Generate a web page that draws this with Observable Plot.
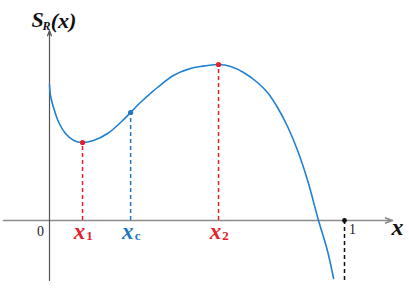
<!DOCTYPE html>
<html><head><meta charset="utf-8">
<script src="https://cdn.jsdelivr.net/npm/d3@7"></script>
<script src="https://cdn.jsdelivr.net/npm/@observablehq/plot@0.6"></script>
<style>body{margin:0;background:#fff} #chart svg text{font-family:"Liberation Serif","DejaVu Serif",serif !important;}</style></head>
<body><div id="chart"></div>
<script>
// curve S_R(x)
const curveX = [0, 0.0034, 0.0146, 0.0315, 0.0542, 0.0824, 0.1119, 0.149, 0.197, 0.241, 0.275, 0.308, 0.342, 0.366, 0.420, 0.478, 0.512, 0.573, 0.614, 0.658, 0.705, 0.739, 0.773, 0.807, 0.841, 0.875, 0.912, 0.942, 0.963];
const curveY = [1.36, 1.25, 1.12, 0.98, 0.87, 0.80, 0.78, 0.80, 0.87, 0.98, 1.08, 1.18, 1.27, 1.33, 1.45, 1.52, 1.54, 1.56, 1.54, 1.48, 1.38, 1.28, 1.13, 0.94, 0.70, 0.40, 0.0, -0.30, -0.58];
// special points
const critSub = ["1", "c", "2"];
const critX = [0.112, 0.275, 0.573];
const critY = [0.78, 1.08, 1.56];
const critColor = ["#e41e2b", "#1f76c6", "#e41e2b"];
// axis tick labels
const tickValues = [0, 1];
const tickLabels = ["0", "1"];
const yMin = -0.6, yMax = 1.9, xMin = -0.156, xMax = 1.163;

const curve = curveX.map((x, i) => ({x, y: curveY[i]}));
const crit = critX.map((x, i) => ({x, y: critY[i], sub: critSub[i], color: critColor[i]}));
const ticks = tickValues.map((v, i) => ({x: v, y: 0, label: tickLabels[i]}));
const serif = "Liberation Serif, DejaVu Serif, serif";
const fixed = {frameAnchor: "top-left", textAnchor: "middle", lineAnchor: "middle", fontFamily: serif, fill: "#111", fontWeight: "bold", fontStyle: "italic"};

const chart = Plot.plot({
  width: 409, height: 289, margin: 0,
  x: {domain: [-49/295, 360/295], axis: null},
  y: {domain: [-0.69, 2.2], axis: null},
  style: {background: "#fff", fontFamily: serif},
  marks: [
    Plot.arrow([{}], {x1: xMin, y1: 0, x2: xMax, y2: 0, stroke: "#8c8c8c", strokeWidth: 1.6, headLength: 7, headAngle: 40}),
    Plot.arrow([{}], {x1: 0, y1: yMin, x2: 0, y2: yMax, stroke: "#555", strokeWidth: 1.2, headLength: 7, headAngle: 40}),
    Plot.ruleX(crit, {x: "x", y1: 0, y2: "y", stroke: "color", strokeWidth: 1.5, strokeDasharray: "4,3"}),
    Plot.ruleX([1], {y1: 0, y2: yMin, stroke: "#111", strokeWidth: 1.5, strokeDasharray: "4,3"}),
    Plot.line(curve, {x: "x", y: "y", stroke: "#2280d2", strokeWidth: 1.6, curve: "catmull-rom"}),
    Plot.dot(crit, {x: "x", y: "y", fill: "color", r: 2.6}),
    Plot.dot([{x: 1, y: 0}], {x: "x", y: "y", fill: "#111", r: 2.4}),
    // tick labels
    Plot.text(ticks.slice(0, 1), {x: "x", y: "y", text: "label", dx: -9, dy: 11, fontSize: 14, fontFamily: serif, fill: "#222"}),
    Plot.text(ticks.slice(1), {x: "x", y: "y", text: "label", dx: 8, dy: 9, fontSize: 14, fontFamily: serif, fill: "#222"}),
    // critical point labels
    Plot.text(crit, {x: "x", y: 0, text: () => "x", fill: "color", dx: -3, dy: 11, fontSize: 23, fontWeight: "bold", fontStyle: "italic", fontFamily: serif}),
    Plot.text(crit, {x: "x", y: 0, text: "sub", fill: "color", dx: 7, dy: 15, fontSize: 13, fontWeight: "bold", fontFamily: serif}),
    // axis label
    Plot.text(["x"], {...fixed, dx: 397, dy: 227, fontSize: 24}),
    // title S_R(x)
    Plot.text(["S"], {...fixed, dx: 37, dy: 19, fontSize: 22}),
    Plot.text(["R"], {...fixed, dx: 46, dy: 26, fontSize: 12}),
    Plot.text(["(x)"], {...fixed, dx: 63, dy: 20, fontSize: 22})
  ]
});
document.getElementById("chart").append(chart);
</script>
</body></html>
